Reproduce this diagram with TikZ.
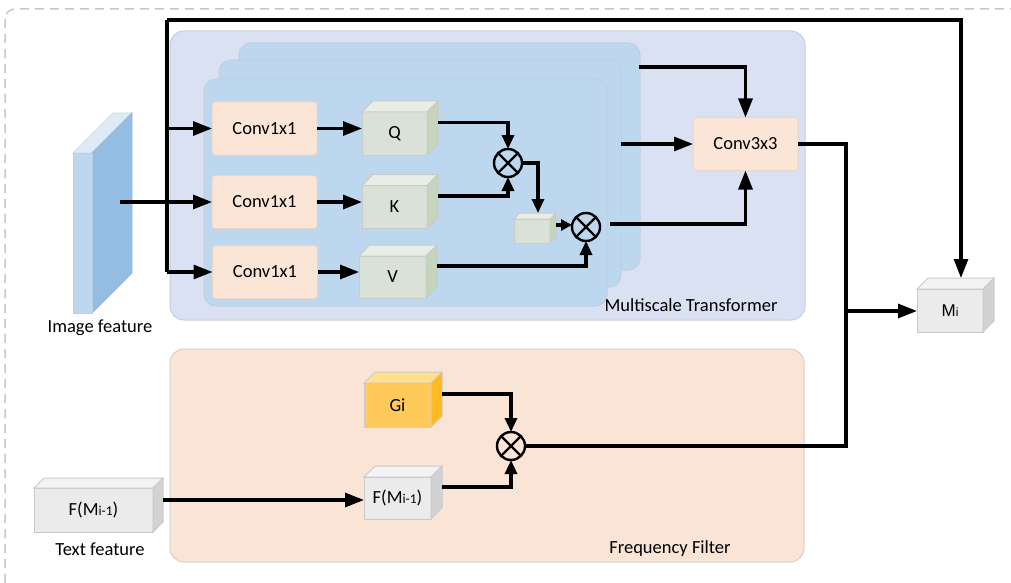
\documentclass[tikz,border=0pt]{standalone}
\usepackage{fontspec}
\setmainfont{Carlito}
\newfontfamily\arialfont{Liberation Sans}
\usetikzlibrary{arrows.meta,calc}

\definecolor{dashcol}{HTML}{C8C8C8}
\definecolor{mtfill}{HTML}{DAE1F2}
\definecolor{mtline}{HTML}{C9CEDB}
\definecolor{panfill}{HTML}{BDD7EE}
\definecolor{panline}{HTML}{C2CFDD}
\definecolor{convfill}{HTML}{FBE5D6}
\definecolor{convline}{HTML}{EAD5C6}
\definecolor{ffill}{HTML}{FAE4D5}
\definecolor{fline}{HTML}{D8D0CA}
\definecolor{qfront}{HTML}{DAE2D8}
\definecolor{qtop}{HTML}{E8EDE6}
\definecolor{qside}{HTML}{C5D4BC}
\definecolor{gfront}{HTML}{EBEBEB}
\definecolor{gtop}{HTML}{F3F3F3}
\definecolor{gside}{HTML}{D2D2D2}
\definecolor{yfront}{HTML}{FFCA5A}
\definecolor{ytop}{HTML}{FFE08C}
\definecolor{yside}{HTML}{FFBA22}
\definecolor{cubeline}{HTML}{CACACA}
\definecolor{slabfront}{HTML}{BDD7EE}
\definecolor{slabtop}{HTML}{DEEBF7}
\definecolor{slabside}{HTML}{94BDE3}

\newcommand\lbl{\fontsize{18.5}{22}\selectfont}
\newcommand\smlbl{\fontsize{13.5}{16}\selectfont}
\newcommand\fmi{F(M{\smlbl i-1})}

% name, depth, top colour, side colour
\newcommand\cubefaces[4]{%
  \filldraw[fill=#3,draw=cubeline,line width=1pt] (#1.north west) -- ++(#2,-#2) -- ($(#1.north east)+(#2,-#2)$) -- (#1.north east) -- cycle;
  \filldraw[fill=#4,draw=cubeline,line width=1pt] (#1.north east) -- ($(#1.north east)+(#2,-#2)$) -- ($(#1.south east)+(#2,-#2)$) -- (#1.south east) -- cycle;
  \coordinate (#1side) at ($(#1.east)+(#2,-#2)$);
  \coordinate (#1topc) at ($(#1.north)+(#2,-#2)$);
}

\tikzset{
  box/.style={draw=cubeline,line width=1pt,inner sep=0pt,outer sep=0pt,font=\lbl},
  convbox/.style={box,fill=convfill,draw=convline,rounded corners=3pt,minimum width=105pt,minimum height=53pt},
  qbox/.style={box,fill=qfront,minimum width=65pt,minimum height=43pt},
  otimes/.style={circle,draw,line width=2.4pt,minimum size=28pt,inner sep=0pt,outer sep=0pt},
  crossl/.style={line width=2.2pt},
  conn/.style={line width=3.2pt},
  arr/.style={line width=3.2pt,-{Triangle[length=19pt,width=14pt]}},
  sarr/.style={line width=3.2pt,-{Triangle[length=14pt,width=12pt]}},
  tarr/.style={line width=3.2pt,-{Triangle[length=11pt,width=11pt]}},
  txt/.style={font=\lbl,inner sep=0pt},
}

\begin{document}
\begin{tikzpicture}[x=1pt,y=-1pt]
\useasboundingbox (0,0) rectangle (1011,583);
\fill[white] (0,0) rectangle (1011,583);

% outer dashed frame
\draw[dashcol,line width=1.5pt,dash pattern=on 9pt off 6pt,rounded corners=10pt] (5,9) rectangle (1040,610);

% Multiscale Transformer container
\filldraw[fill=mtfill,draw=mtline,line width=1pt,rounded corners=14pt] (170,31) rectangle (805,320);
\filldraw[fill=panfill,draw=panline,line width=1pt,rounded corners=12pt] (239,43) rectangle (640,270);
\filldraw[fill=panfill,draw=panline,line width=1pt,rounded corners=12pt] (219,60) rectangle (621,287);
\filldraw[fill=panfill,draw=panline,line width=1pt,rounded corners=12pt] (204,79) rectangle (607,306);
\node[txt,anchor=center] (mtlabel) at (691,305) {Multiscale Transformer};

% Frequency filter container
\filldraw[fill=ffill,draw=fline,line width=1pt,rounded corners=14pt] (170,349) rectangle (804,562);
\node[txt] (fflabel) at (670,549) {Frequency Filter};

% Image feature slab
\filldraw[fill=slabtop,draw=slabtop!85!gray,line width=0.8pt] (73,153) -- (113,113) -- (132,113) -- (92,153) -- cycle;
\filldraw[fill=slabside,draw=slabside!90!gray,line width=0.8pt] (92,153) -- (132,113) -- (132,273) -- (92,313) -- cycle;
\node[fill=slabfront,draw=slabfront!90!gray,line width=0.8pt,inner sep=0pt,minimum width=19pt,minimum height=160pt] (slab) at (82.5,233) {};
\coordinate (imgout) at (120,202);
\node[txt] (imglabel) at (100,328) {Image feature};

% Conv1x1 boxes
\node[convbox] (c1) at (264.5,128.5) {Conv1x1};
\node[convbox] (c2) at (264.5,202) {Conv1x1};
\node[convbox] (c3) at (265,272) {Conv1x1};

% Q K V cubes
\node[qbox] (q) at (394.5,133.5) {Q};
\cubefaces{q}{11}{qtop}{qside}
\node[qbox] (k) at (394.5,207) {K};
\cubefaces{k}{11}{qtop}{qside}
\node[qbox,minimum width=67pt,minimum height=42pt] (v) at (392.5,277) {V};
\cubefaces{v}{11}{qtop}{qside}
\node[qbox,minimum width=36pt,minimum height=24pt] (sm) at (532,231) {};
\cubefaces{sm}{6}{qtop}{qside}

% multiplications
\node[otimes] (o1) at (508,163) {};
\draw[crossl] (o1.45) -- (o1.225) (o1.135) -- (o1.315);
\node[otimes] (o2) at (586,227) {};
\draw[crossl] (o2.45) -- (o2.225) (o2.135) -- (o2.315);
\node[otimes] (o3) at (511,446) {};
\draw[crossl] (o3.45) -- (o3.225) (o3.135) -- (o3.315);

% Conv3x3
\node[convbox] (c33) at (745.5,144) {Conv3x3};

% Mi cube
\node[box,fill=gfront,minimum width=66pt,minimum height=43pt] (mi) at (950,310.5) {{\arialfont\fontsize{17}{19}\selectfont M{\fontsize{12}{14}\selectfont i}}};
\cubefaces{mi}{11}{gtop}{gside}

% Frequency filter cubes
\node[box,fill=yfront,minimum width=67pt,minimum height=44pt] (gi) at (397.5,405) {Gi};
\cubefaces{gi}{11}{ytop}{yside}
\node[box,fill=gfront,minimum width=67pt,minimum height=42pt] (f2) at (397.5,498) {\fmi};
\cubefaces{f2}{11}{gtop}{gside}

% Text feature cube
\node[box,fill=gfront,minimum width=119pt,minimum height=44pt] (tc) at (93.5,510) {\fmi};
\cubefaces{tc}{10}{gtop}{gside}
\node[txt] (txtlabel) at (100,549) {Text feature};

% ---- connectors ----
\coordinate (jtop) at (167,20);
\coordinate (jbot) at (167,272);
\draw[conn] (jbot) -- (jtop);
\draw[arr] (jtop) -| (mitopc);
\draw[arr] (imgout) -- (c2.west);
\draw[arr] (jtop |- c1.west) -- (c1.west);
\draw[arr] (jbot) -- (c3.west);

\draw[arr] (c1.east) -- (c1.east -| q.west);
\draw[arr] (c2.east) -- (c2.east -| k.west);
\draw[arr] (c3.east) -- (c3.east -| v.west);

\draw[sarr] (qside) -| (o1.north);
\draw[sarr] (kside) -| (o1.south);
\draw[sarr] (o1.east) -| (smtopc);
\draw[tarr] (smside) -- (smside -| o2.west);
\draw[sarr] (vside) -| (o2.south);

\coordinate (p0) at (639,67);
\coordinate (p1) at (621,144);
\coordinate (p2) at (610,224);
\draw[arr] (p0) -| (c33.north);
\draw[arr] (p1) -- (c33.west);
\draw[arr] (p2) -| (c33.south);

\coordinate (jr) at (846,446);
\coordinate (jm) at (846,311);
\draw[conn] (c33.east) -| (jr) -- (o3.east);
\draw[arr] (jm) -- (jm -| mi.west);

\draw[sarr] (giside) -| (o3.north);
\draw[sarr] (f2side) -| (o3.south);
\draw[arr] (tcside) -- (tcside -| f2.west);
\end{tikzpicture}
\end{document}
